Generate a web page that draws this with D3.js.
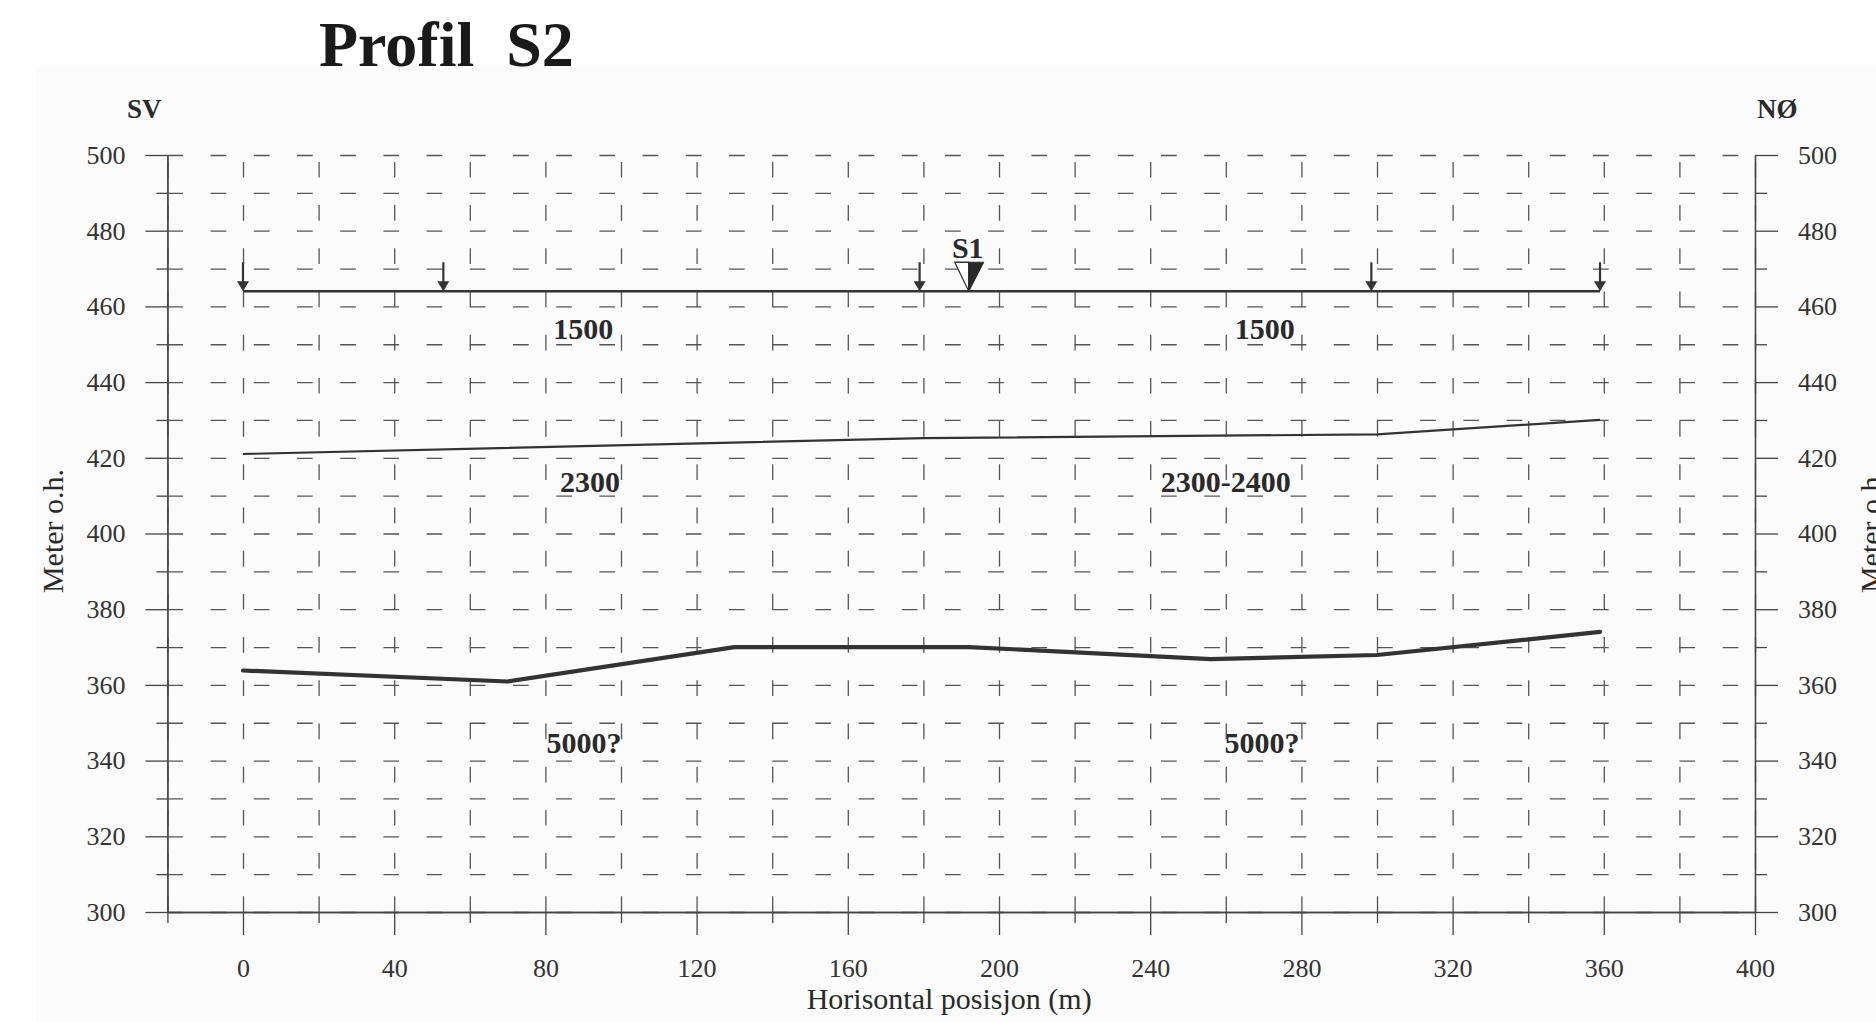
<!DOCTYPE html>
<html>
<head>
<meta charset="utf-8">
<script src="https://cdnjs.cloudflare.com/ajax/libs/d3/7.8.5/d3.min.js"></script>
<style>
  body { margin: 0; background: #fff; }
  svg { display: block; font-family: "Liberation Serif", "Times New Roman", serif; }
  .axis path, .axis line { stroke: #444; stroke-width: 1.3; }
  .axis text { fill: #333; font-size: 26px; font-family: "Liberation Serif", serif; }
  .grid line { stroke: #555; stroke-width: 1.3; stroke-dasharray: 15.7 27.5; }
  .grid path { display: none; }
</style>
</head>
<body>
<div id="chart"></div>
<script>
// chart values
var xTicks = [0, 40, 80, 120, 160, 200, 240, 280, 320, 360, 400];
var yTicks = [300, 320, 340, 360, 380, 400, 420, 440, 460, 480, 500];
var shotPoints = [0, 53, 179, 298.5, 359];     // arrows on the profile line
var profileX = [0, 359];
var profileY = [464, 464];
var s1Position = 192;
var boundary1X = [0, 180, 300, 359];
var boundary1Y = [421, 425.2, 426.2, 430];
var boundary2X = [0, 70, 130, 192, 256, 300, 359];
var boundary2Y = [363.8, 360.9, 370, 370, 366.8, 367.9, 374];
var velocityLabels = ["1500", "1500", "2300", "2300-2400", "5000?", "5000?"];
var velocityX = [90, 270.3, 91.8, 260, 90.2, 269.6];
var velocityY = [451.4, 451.4, 411, 411, 342, 342];

var width = 1876, height = 1022;
var plotLeft = 167.4, plotRight = 1755, plotTop = 155, plotBottom = 912;

var svg = d3.select("#chart").append("svg")
    .attr("width", width)
    .attr("height", height);

// light chart area background
svg.append("rect")
    .attr("x", 36).attr("y", 66)
    .attr("width", width - 36).attr("height", height - 66)
    .attr("fill", "#fbfbfb");

var x = d3.scaleLinear().domain([-20, 400]).range([plotLeft, plotRight]);
var y = d3.scaleLinear().domain([300, 500]).range([plotBottom, plotTop]);

var minorY = d3.range(310, 500, 20);
var minorX = d3.range(-20, 400, 40);
var gridY = d3.range(300, 501, 10);
var gridX = d3.range(-20, 401, 20);

// dashed grid, dashes start at the axes
svg.append("g").attr("class", "grid")
    .attr("transform", "translate(" + plotLeft + ",0)")
    .call(d3.axisLeft(y).tickValues(gridY).tickSize(-(plotRight - plotLeft)).tickFormat(""));
svg.append("g").attr("class", "grid")
    .attr("transform", "translate(0," + plotBottom + ")")
    .call(d3.axisBottom(x).tickValues(gridX).tickSize(-(plotBottom - plotTop)).tickFormat(""));

// left axis
svg.append("g").attr("class", "axis")
    .attr("transform", "translate(" + plotLeft + ",0)")
    .call(d3.axisLeft(y).tickValues(yTicks).tickSize(22).tickSizeOuter(0).tickPadding(20));
svg.append("g").attr("class", "axis")
    .attr("transform", "translate(" + plotLeft + ",0)")
    .call(d3.axisLeft(y).tickValues(minorY).tickSize(11).tickSizeOuter(0).tickFormat(""));

// right axis
svg.append("g").attr("class", "axis")
    .attr("transform", "translate(" + plotRight + ",0)")
    .call(d3.axisRight(y).tickValues(yTicks).tickSize(23).tickSizeOuter(0).tickPadding(20));
svg.append("g").attr("class", "axis")
    .attr("transform", "translate(" + plotRight + ",0)")
    .call(d3.axisRight(y).tickValues(minorY).tickSize(12).tickSizeOuter(0).tickFormat(""));

// bottom axis
svg.append("g").attr("class", "axis")
    .attr("transform", "translate(0," + plotBottom + ")")
    .call(d3.axisBottom(x).tickValues(xTicks).tickSize(23).tickSizeOuter(0).tickPadding(24));
svg.append("g").attr("class", "axis")
    .attr("transform", "translate(0," + plotBottom + ")")
    .call(d3.axisBottom(x).tickValues(minorX).tickSize(11).tickSizeOuter(0).tickFormat(""));

var line = d3.line()
    .x(function(d) { return x(d[0]); })
    .y(function(d) { return y(d[1]); });

// profile line
svg.append("path")
    .attr("d", line(d3.zip(profileX, profileY)))
    .attr("fill", "none").attr("stroke", "#333").attr("stroke-width", 2.5);

// layer boundaries
svg.append("path")
    .attr("d", line(d3.zip(boundary1X, boundary1Y)))
    .attr("fill", "none").attr("stroke", "#333").attr("stroke-width", 2.2);
svg.append("path")
    .attr("d", line(d3.zip(boundary2X, boundary2Y)))
    .attr("fill", "none").attr("stroke", "#333").attr("stroke-width", 4.2)
    .attr("stroke-linejoin", "round").attr("stroke-linecap", "round");

// shot point arrows
var arrows = svg.selectAll(".shot")
    .data(shotPoints)
    .enter().append("g")
    .attr("class", "shot")
    .attr("transform", function(d) { return "translate(" + x(d) + "," + y(profileY[0]) + ")"; });
arrows.append("line")
    .attr("x1", 0).attr("x2", 0).attr("y1", -29).attr("y2", -8)
    .attr("stroke", "#333").attr("stroke-width", 2.2);
arrows.append("path")
    .attr("d", "M-6,-10L6,-10L0,0Z")
    .attr("fill", "#333");

// S1 marker
var s1 = svg.append("g")
    .attr("transform", "translate(" + x(s1Position) + "," + y(profileY[0]) + ")");
s1.append("path").attr("d", "M0,0L-14,-29L0,-29Z")
    .attr("fill", "#fff").attr("stroke", "#333").attr("stroke-width", 1.3);
s1.append("path").attr("d", "M0,0L15,-29L0,-29Z")
    .attr("fill", "#2a2a2a").attr("stroke", "#2a2a2a").attr("stroke-width", 1);
s1.append("text")
    .attr("x", -1).attr("y", -33)
    .attr("text-anchor", "middle")
    .attr("font-size", 30).attr("font-weight", "bold").attr("fill", "#2a2a2a")
    .text("S1");

// velocity labels
svg.selectAll(".vel")
    .data(velocityLabels)
    .enter().append("text")
    .attr("class", "vel")
    .attr("x", function(d, i) { return x(velocityX[i]); })
    .attr("y", function(d, i) { return y(velocityY[i]); })
    .attr("text-anchor", "middle")
    .attr("font-size", 30).attr("font-weight", "bold").attr("fill", "#2a2a2a")
    .text(function(d) { return d; });

// title and direction labels
svg.append("text")
    .attr("x", 319).attr("y", 66)
    .attr("font-size", 64).attr("font-weight", "bold").attr("fill", "#1a1a1a")
    .style("white-space", "pre")
    .text("Profil  S2");
svg.append("text")
    .attr("x", 127).attr("y", 118)
    .attr("font-size", 27).attr("font-weight", "bold").attr("fill", "#2a2a2a")
    .text("SV");
svg.append("text")
    .attr("x", 1757).attr("y", 118)
    .attr("font-size", 27).attr("font-weight", "bold").attr("fill", "#2a2a2a")
    .text("NØ");

// axis titles
svg.append("text")
    .attr("x", (x(-20) + x(400)) / 2 - 12).attr("y", 1009)
    .attr("text-anchor", "middle")
    .attr("font-size", 30).attr("fill", "#2a2a2a")
    .text("Horisontal posisjon (m)");
svg.append("text")
    .attr("transform", "translate(63,531) rotate(-90)")
    .attr("text-anchor", "middle")
    .attr("font-size", 30).attr("fill", "#2a2a2a")
    .text("Meter o.h.");
svg.append("text")
    .attr("transform", "translate(1881,531) rotate(-90)")
    .attr("text-anchor", "middle")
    .attr("font-size", 30).attr("fill", "#2a2a2a")
    .text("Meter o.h.");
</script>
</body>
</html>
